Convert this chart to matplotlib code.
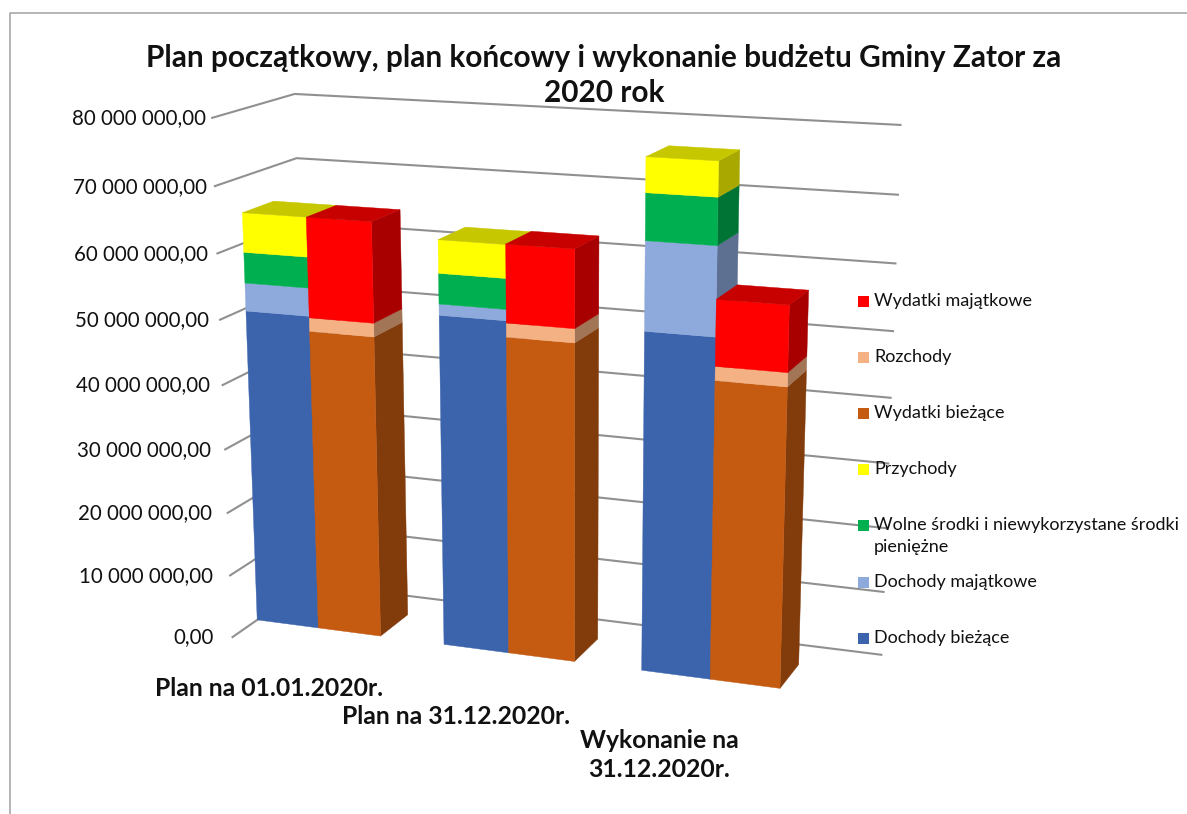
import numpy as np
import matplotlib
matplotlib.use('Agg')
import matplotlib.pyplot as plt
from matplotlib.patches import Polygon, Rectangle

plt.rcParams['font.family'] = ['Lato', 'DejaVu Sans']

categories = ['Plan na 01.01.2020r.', 'Plan na 31.12.2020r.', 'Wykonanie na\n31.12.2020r.']

# left column of each pair, in millions
dochody_biezace = [49.57, 51.38, 51.52]
dochody_majatkowe = [4.32, 1.69, 13.11]
wolne_srodki = [4.71, 4.59, 6.84]
przychody = [6.03, 4.99, 5.09]
# right column of each pair
wydatki_biezace = [47.25, 48.94, 45.20]
rozchody = [2.09, 2.11, 2.07]
wydatki_majatkowe = [15.29, 11.67, 9.70]

ticks = [0, 10, 20, 30, 40, 50, 60, 70, 80]

left_series = [(dochody_biezace, '#3B64AD'), (dochody_majatkowe, '#8EA9DB'),
               (wolne_srodki, '#00B050'), (przychody, '#FFFF00')]
right_series = [(wydatki_biezace, '#C55A11'), (rozchody, '#F4B183'),
                (wydatki_majatkowe, '#FF0000')]

legend_labels = ['Wydatki majątkowe', 'Rozchody', 'Wydatki bieżące', 'Przychody',
                 'Wolne środki i niewykorzystane środki\npieniężne', 'Dochody majątkowe',
                 'Dochody bieżące']
legend_colors = ['#FF0000', '#F4B183', '#C55A11', '#FFFF00', '#00B050', '#8EA9DB', '#3B64AD']
legend_y = [301, 357, 413, 469, 525, 582, 638]

# camera of the 3D chart: x in bar widths, value in tens of millions, depth in bar depths
CAM = np.array([[58.2048289, -3.97884088, 36.36868981, 257.19930092],
                [2.25168324, -64.48565096, -6.24854526, 619.89633969],
                [-0.00916056, -0.00697025, 0.02386232, 1.]])
WALL_FRONT, WALL_BACK = -0.80, 1.80
X_MAX = 9


def project(x, value, depth):
    u, v, w = CAM @ np.array([x, value / 10, depth, 1.0])
    return u / w, v / w


def shade(color, factor):
    return tuple(c * factor for c in matplotlib.colors.to_rgb(color))


def face(ax, corners, color):
    ax.add_patch(Polygon([project(*c) for c in corners], closed=True, facecolor=color,
                         edgecolor=color, linewidth=0.3, zorder=3))


def draw_column(ax, x, series, i):
    bottom = 0
    for n, (values, color) in enumerate(series):
        top = bottom + values[i]
        face(ax, [(x + 1, bottom, 0), (x + 1, bottom, 1), (x + 1, top, 1), (x + 1, top, 0)],
             shade(color, 0.66))
        face(ax, [(x, bottom, 0), (x + 1, bottom, 0), (x + 1, top, 0), (x, top, 0)], color)
        if n == len(series) - 1:
            face(ax, [(x, top, 0), (x + 1, top, 0), (x + 1, top, 1), (x, top, 1)],
                 shade(color, 0.78))
        bottom = top


fig = plt.figure(figsize=(11.87, 8.14), dpi=100)
ax = fig.add_axes([0, 0, 1, 1])
ax.set_xlim(0, 1187)
ax.set_ylim(814, 0)
ax.axis('off')

# chart border, open on the right and at the bottom
ax.plot([10, 10, 1187], [814, 13, 13], color='#A0A0A0', lw=1.1)

# wall gridlines and value labels
for t in ticks:
    pts = [project(0, t, WALL_FRONT), project(0, t, WALL_BACK), project(X_MAX, t, WALL_BACK)]
    ax.plot(*zip(*pts), color='#909090', lw=1.5, solid_joinstyle='miter')
    label = '{:,.2f}'.format(t * 1e6).replace(',', ' ').replace('.', ',')
    ax.text(213.5 - t * 7 / 80, pts[0][1] + 0.5, label, ha='right', va='center',
            fontsize=14.8, color='#111111')

for i in range(len(categories)):
    draw_column(ax, 3 * i, left_series, i)
    draw_column(ax, 3 * i + 1, right_series, i)

ax.text(604, 58, 'Plan początkowy, plan końcowy i wykonanie budżetu Gminy Zator za',
        ha='center', va='center', fontsize=21.4, fontweight='bold', color='#111111')
ax.text(604, 93, '2020 rok', ha='center', va='center', fontsize=21.4, fontweight='bold',
        color='#111111')

cat_x = [269, 456, 659]
cat_y = [689, 716, 755]
for name, cx, cy in zip(categories, cat_x, cat_y):
    ax.text(cx, cy, name, ha='center', va='center', fontsize=17.8, fontweight='bold',
            color='#111111', linespacing=1.27)

for label, color, ly in zip(legend_labels, legend_colors, legend_y):
    ax.add_patch(Rectangle((858, ly - 5.5), 11, 11, facecolor=color, edgecolor='none', zorder=4))
    ax.text(874, ly - 8, label, ha='left', va='top', fontsize=13, color='#111111',
            linespacing=1.44, zorder=4)

fig.savefig('out.png', dpi=100)
